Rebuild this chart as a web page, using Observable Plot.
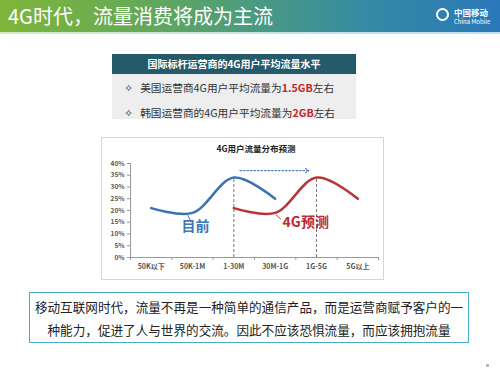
<!DOCTYPE html>
<html>
<head>
<meta charset="utf-8">
<script src="https://cdn.jsdelivr.net/npm/d3@7"></script>
<script src="https://cdn.jsdelivr.net/npm/@observablehq/plot@0.6"></script>
<style>
  html, body { margin: 0; padding: 0; background: #fff; }
  body { width: 500px; height: 370px; position: relative; overflow: hidden; font-family: "Noto Sans CJK SC", "Noto Sans", sans-serif; }
  .abs { position: absolute; }
  #header { left: 0; top: 0; width: 500px; height: 32px;
    background: linear-gradient(90deg, #80b53a 0%, #68ab52 25%, #4b9b80 50%, #3489a6 75%, #2a78b8 100%); }
  #headerline { left: 0; top: 32px; width: 500px; height: 2px;
    background: linear-gradient(90deg, #d6ebc4 0%, #c6e4e4 50%, #bfdff2 100%); }
  #title { left: 8px; top: 0; height: 32px; line-height: 32px; color: #fff; font-size: 20px; white-space: nowrap; }
  #logo { left: 436px; top: 8px; color: #fff; }
  #logoicon { left: 0; top: 0; width: 13px; height: 13px; border: 2px solid #fff; border-radius: 50%; box-sizing: border-box; }
  #logo1 { left: 18px; top: -2px; font-size: 8.5px; font-weight: bold; white-space: nowrap; }
  #logo2 { left: 18px; top: 9px; font-size: 6px; white-space: nowrap; }
  #tblhead { left: 112px; top: 54px; width: 244px; height: 20px; background: #245a6a; color: #fff;
    font-size: 10px; font-weight: bold; text-align: center; line-height: 20px; white-space: nowrap; }
  #tblbody { left: 112px; top: 74px; width: 244px; height: 45px; background: #eeeeee; }
  .row { left: 124px; font-size: 10.7px; color: #333; white-space: nowrap; }
  .red { color: #c0282d; font-weight: bold; }
  #chartbox { left: 101px; top: 137px; width: 283px; height: 143px; border: 1px solid #d6d6d6; box-sizing: border-box; }
  #charttitle { left: 101px; top: 142px; width: 310px; text-align: center; font-size: 8.5px; font-weight: bold; color: #222; }
  #plot { left: 101px; top: 137px; }
  #note { left: 29px; top: 292px; width: 440px; height: 51px; border: 1.5px solid #4bacc6; box-sizing: border-box;
    font-size: 12.6px; line-height: 23px; text-align: center; color: #222; padding-top: 2px; white-space: nowrap; }
  #dot { left: 486px; top: 364px; width: 3px; height: 3px; background: #bbb; }
</style>
</head>
<body>
<div id="header" class="abs"></div>
<div id="headerline" class="abs"></div>
<div id="title" class="abs">4G时代，流量消费将成为主流</div>
<div id="logo" class="abs">
  <div id="logoicon" class="abs"></div>
  <div id="logo1" class="abs">中国移动</div>
  <div id="logo2" class="abs">China Mobile</div>
</div>

<div id="tblhead" class="abs">国际标杆运营商的4G用户平均流量水平</div>
<div id="tblbody" class="abs"></div>
<div class="abs row" style="top:80px">✧&nbsp;&nbsp;&nbsp;美国运营商4G用户平均流量为<span class="red">1.5GB</span>左右</div>
<div class="abs row" style="top:105px">✧&nbsp;&nbsp;&nbsp;韩国运营商的4G用户平均流量为<span class="red">2GB</span>左右</div>

<div id="chartbox" class="abs"></div>
<div id="plot" class="abs"></div>
<div id="charttitle" class="abs">4G用户流量分布预测</div>

<div id="note" class="abs">移动互联网时代，流量不再是一种简单的通信产品，而是运营商赋予客户的一<br>种能力，促进了人与世界的交流。因此不应该恐惧流量，而应该拥抱流量</div>
<div id="dot" class="abs"></div>

<script>
// ---- data ----
const categories = ["50K以下", "50K-1M", "1-30M", "30M-1G", "1G-5G", "5G以上"];
const currentValues  = [21, 19, 34, 25, null, null];   // 目前
const forecastValues = [null, null, 21, 19, 34, 25];   // 4G预测
const yTicks = [0, 5, 10, 15, 20, 25, 30, 35, 40];
const labelCurrent  = ["目前", 1.07, 13.2];
const labelForecast = ["4G预测", 3.18, 14.8];
const leaderCurrent  = [0.88, 18.0, 0.95, 15.8];
const leaderForecast = [3.02, 18.3, 3.14, 16.2];
const shiftArrow = [2.15, 3.82, 37];

// ---- build ----
const toPts = vals => vals.map((v, i) => ({i, v})).filter(d => d.v != null);
const cur = toPts(currentValues);
const fut = toPts(forecastValues);
const peakOf = pts => pts.reduce((a, b) => (b.v > a.v ? b : a));
const peaks = [peakOf(cur), peakOf(fut)];
const bounds = d3.range(categories.length + 1).map(k => k - 0.5);

const chart = Plot.plot({
  width: 283,
  height: 143,
  marginLeft: 29,
  marginRight: 6,
  marginTop: 26,
  marginBottom: 23,
  style: {background: "transparent", fontFamily: "'Noto Sans CJK SC', sans-serif", overflow: "visible"},
  x: {domain: [-0.5, categories.length - 0.5]},
  y: {domain: [0, 40]},
  marks: [
    Plot.axisY(yTicks, {tickSize: 3, tickPadding: 3, tickFormat: d => d + "%", fontSize: 6.5, fontWeight: "bold", fill: "#555", stroke: "#999", label: null}),
    Plot.axisX(bounds, {tickSize: 3, tickFormat: () => "", stroke: "#999", label: null}),
    Plot.axisX(d3.range(categories.length), {tickSize: 0, tickPadding: 7, tickFormat: i => categories[i], fontSize: 7, fontWeight: "bold", fill: "#555", label: null}),
    Plot.ruleY([0], {stroke: "#999"}),
    Plot.ruleX([-0.5], {stroke: "#999"}),
    Plot.ruleX(peaks, {x: "i", y1: 0, y2: "v", stroke: "#777", strokeDasharray: "3,2"}),
    Plot.line(cur, {x: "i", y: "v", curve: "catmull-rom", stroke: "#3a74b0", strokeWidth: 2.5}),
    Plot.line(fut, {x: "i", y: "v", curve: "catmull-rom", stroke: "#b8343a", strokeWidth: 2.5}),
    Plot.arrow([shiftArrow], {x1: d => d[0], x2: d => d[1], y1: d => d[2], y2: d => d[2], stroke: "#4a7ebb", strokeWidth: 1.2, strokeDasharray: "1.5,2", headLength: 5, bend: false}),
    Plot.link([leaderCurrent], {x1: d => d[0], y1: d => d[1], x2: d => d[2], y2: d => d[3], stroke: "#3a74b0", strokeWidth: 1}),
    Plot.link([leaderForecast], {x1: d => d[0], y1: d => d[1], x2: d => d[2], y2: d => d[3], stroke: "#b8343a", strokeWidth: 1}),
    Plot.text([labelCurrent], {x: d => d[1], y: d => d[2], text: d => d[0], fill: "#3a78b6", fontSize: 14, fontWeight: "bold"}),
    Plot.text([labelForecast], {x: d => d[1], y: d => d[2], text: d => d[0], fill: "#c0282d", fontSize: 14, fontWeight: "bold", textAnchor: "start"})
  ]
});
document.getElementById("plot").appendChild(chart);
</script>
</body>
</html>
